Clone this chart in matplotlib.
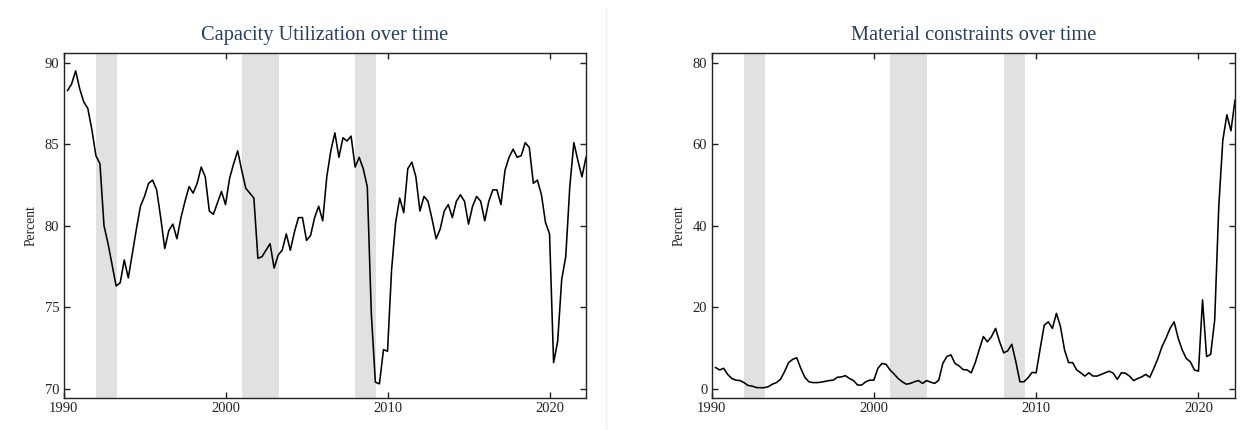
import matplotlib
matplotlib.use("Agg")
import matplotlib.pyplot as plt
import numpy as np
from matplotlib.lines import Line2D

plt.rcParams['font.family'] = ['Liberation Serif', 'DejaVu Serif']

# ---------------- data ----------------
first_quarter = 1990.25   # first observation (quarterly)
cap_util = [
    88.3, 88.7, 89.5, 88.4, 87.6, 87.2, 85.9, 84.3, 83.8, 80.0,
    78.9, 77.6, 76.3, 76.5, 77.9, 76.8, 78.3, 79.8, 81.2, 81.8,
    82.6, 82.8, 82.2, 80.5, 78.6, 79.7, 80.1, 79.2, 80.5, 81.5,
    82.4, 82.0, 82.6, 83.6, 83.0, 80.9, 80.7, 81.4, 82.1, 81.3,
    82.9, 83.8, 84.6, 83.4, 82.3, 82.0, 81.7, 78.0, 78.1, 78.5,
    78.9, 77.4, 78.2, 78.5, 79.5, 78.5, 79.6, 80.5, 80.5, 79.1,
    79.4, 80.5, 81.2, 80.3, 83.0, 84.6, 85.7, 84.2,
    85.4, 85.2, 85.5, 83.6, 84.2, 83.5, 82.4, 74.6, 70.4, 70.3,
    72.4, 72.3, 77.3, 80.2, 81.7, 80.8, 83.5, 83.9, 83.0, 80.9,
    81.8, 81.5, 80.4, 79.2, 79.8, 80.9, 81.3, 80.5, 81.5, 81.9,
    81.5, 80.1, 81.2, 81.8, 81.5, 80.3, 81.5, 82.2, 82.2, 81.3,
    83.4, 84.2, 84.7, 84.2, 84.3, 85.1, 84.8, 82.6, 82.8, 81.9,
    80.2, 79.5, 71.6, 72.9, 76.7, 78.1, 82.4, 85.1, 84.0, 83.0,
    84.2,
]
material = [
    5.2, 4.6, 5.0, 3.5, 2.5, 2.1, 2.0, 1.5, 0.8, 0.65,
    0.3, 0.25, 0.25, 0.5, 1.1, 1.5, 2.3, 4.2, 6.4, 7.2,
    7.6, 5.0, 2.8, 1.7, 1.5, 1.5, 1.6, 1.8, 2.0, 2.1,
    2.8, 2.9, 3.2, 2.5, 2.0, 0.9, 0.9, 1.7, 2.1, 2.1,
    5.0, 6.2, 6.0, 4.6, 3.6, 2.5, 1.7, 1.1, 1.3, 1.7,
    2.0, 1.3, 2.0, 1.6, 1.3, 2.1, 6.2, 7.9, 8.3, 6.2,
    5.6, 4.7, 4.6,
    3.9, 6.4, 9.7, 12.8, 11.5, 12.8, 14.8, 11.5, 8.8, 9.3,
    10.9, 6.6, 1.7, 1.7, 2.7, 4.0, 3.9, 9.9, 15.6, 16.4,
    14.8, 18.5, 15.2, 9.5, 6.4, 6.4, 4.6, 3.9, 3.1, 3.9,
    3.1, 3.1, 3.5, 3.9, 4.3, 3.8, 2.3, 3.9, 3.8, 3.1,
    2.0, 2.5, 2.9, 3.5, 2.8, 5.0, 7.4, 10.3, 12.4, 14.8,
    16.4, 12.4, 9.5, 7.4, 6.6, 4.6, 4.3, 21.8, 7.9, 8.4,
    16.9, 44.7, 61.0, 67.2, 63.3, 70.8,
]
recessions = [(1992.0, 1993.28), (2001.0, 2003.28), (2008.0, 2009.3)]
titles = ["Capacity Utilization over time", "Material constraints over time"]
ylabel = "Percent"
xticks = [1990, 2000, 2010, 2020]
yticks_left = [70, 75, 80, 85, 90]
yticks_right = [0, 20, 40, 60, 80]

years = first_quarter + 0.25 * np.arange(len(cap_util))

# ---------------- figure ----------------
W, H = 1243, 430
fig = plt.figure(figsize=(W / 100, H / 100), dpi=100)

title_color = '#2a3f5f'
text_color = '#242424'

def make_ax(x0px, x1px, series, yticks, ylim, title):
    top, bottom = 53, 398
    ax = fig.add_axes([x0px / W, (H - bottom) / H, (x1px - x0px) / W, (bottom - top) / H])
    for a, b in recessions:
        ax.axvspan(a, b, color='#e1e1e1', lw=0, zorder=0)
    ax.plot(years, series, color='black', lw=1.15, zorder=2)
    ax.set_xlim(1990.0, years[-1])
    ax.set_ylim(*ylim)
    ax.set_xticks(xticks)
    ax.set_yticks(yticks)
    ax.tick_params(direction='in', length=4.5, width=1, top=True, right=True,
                   labelsize=10.5, labelcolor=text_color, color='#222222')
    ax.tick_params(axis='y', pad=3)
    ax.tick_params(axis='x', pad=3)
    for s in ax.spines.values():
        s.set_color('#222222')
        s.set_linewidth(1.0)
    ax.set_ylabel(ylabel, fontsize=9.8, color=text_color, labelpad=5)
    ax.set_title(title, fontsize=14.7, color=title_color, pad=9.5)
    return ax

make_ax(63.5, 586, cap_util, yticks_left, (69.43, 90.6), titles[0])
make_ax(711.5, 1235, material, yticks_right, (-2.28, 82.38), titles[1])

# faint separator between the two panels
fig.add_artist(Line2D([606 / W, 606 / W], [(H - 428) / H, (H - 8) / H],
                      transform=fig.transFigure, color='#efefef', lw=1))

fig.savefig('out.png', dpi=100)
